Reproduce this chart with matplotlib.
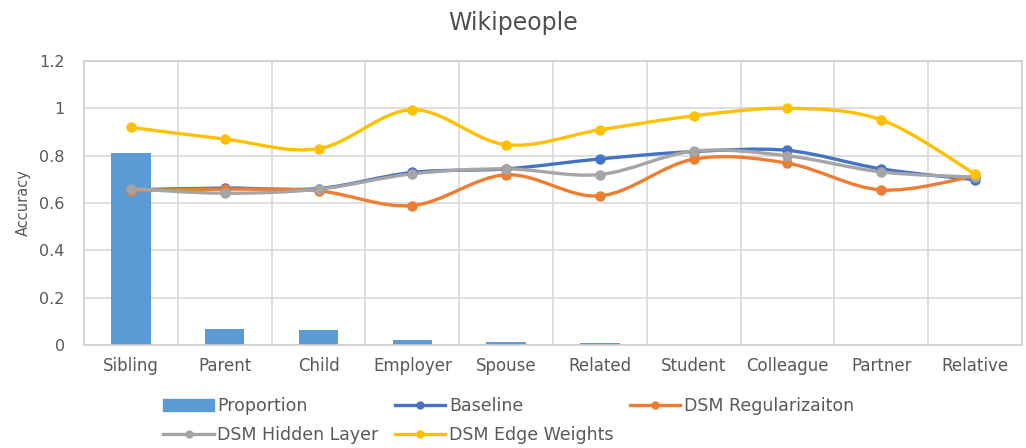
import numpy as np
import matplotlib.pyplot as plt
from matplotlib.path import Path
from matplotlib.patches import PathPatch, Patch
from matplotlib.lines import Line2D

plt.rcParams['font.family'] = ['DejaVu Sans']

categories = ['Sibling', 'Parent', 'Child', 'Employer', 'Spouse', 'Related',
              'Student', 'Colleague', 'Partner', 'Relative']
proportion = [0.81, 0.069, 0.062, 0.02, 0.012, 0.01, 0, 0, 0, 0]
baseline = [0.655, 0.663, 0.661, 0.729, 0.744, 0.786, 0.817, 0.822, 0.744, 0.698]
dsm_reg = [0.652, 0.658, 0.651, 0.589, 0.719, 0.630, 0.785, 0.768, 0.655, 0.714]
dsm_hidden = [0.660, 0.641, 0.658, 0.723, 0.744, 0.720, 0.819, 0.799, 0.731, 0.709]
dsm_edge = [0.919, 0.870, 0.829, 0.994, 0.846, 0.909, 0.968, 1.000, 0.951, 0.722]

c_bar = '#5B9BD5'
c_base = '#4472C4'
c_reg = '#ED7D31'
c_hid = '#A5A5A5'
c_edge = '#FFC000'
txt = '#595959'


def smooth_path(xs, ys):
    # excel-ish smoothed line: cubic bezier, tension 1/6
    pts = np.column_stack([xs, ys]).astype(float)
    n = len(pts)
    verts = [pts[0]]
    codes = [Path.MOVETO]
    for i in range(n - 1):
        p0 = pts[max(i - 1, 0)]
        p1 = pts[i]
        p2 = pts[i + 1]
        p3 = pts[min(i + 2, n - 1)]
        c1 = p1 + (p2 - p0) / 6
        c2 = p2 - (p3 - p1) / 6
        verts += [c1, c2, p2]
        codes += [Path.CURVE4] * 3
    return Path(verts, codes)


fig = plt.figure(figsize=(10.26, 4.48), dpi=100)
ax = fig.add_axes([0.082, 0.23, 0.914, 0.634])

x = np.arange(len(categories))
ax.bar(x, proportion, width=0.42, color=c_bar, zorder=2)

series = [(baseline, c_base), (dsm_reg, c_reg), (dsm_hidden, c_hid), (dsm_edge, c_edge)]
for vals, col in series:
    ax.add_patch(PathPatch(smooth_path(x, vals), fill=False, edgecolor=col,
                           lw=2.4, capstyle='round', joinstyle='round', zorder=3))
    ax.plot(x, vals, 'o', color=col, markersize=6.5, zorder=4)

ax.set_xlim(-0.5, len(categories) - 0.5)
ax.set_ylim(0, 1.2)
ax.set_yticks([0, 0.2, 0.4, 0.6, 0.8, 1, 1.2])
ax.set_yticklabels(['0', '0.2', '0.4', '0.6', '0.8', '1', '1.2'])
ax.set_xticks(x)
ax.set_xticklabels(categories)
ax.set_xticks(np.arange(len(categories) + 1) - 0.5, minor=True)
ax.tick_params(which='both', length=0, colors=txt, labelsize=11.5)
ax.tick_params(axis='x', pad=9, labelsize=12)
ax.tick_params(axis='y', pad=14)
ax.grid(axis='y', which='major', color='#D9D9D9', lw=1.2, zorder=0)
ax.grid(axis='x', which='minor', color='#D9D9D9', lw=1.2, zorder=0)
for s in ax.spines.values():
    s.set_color('#D0D0D0')
    s.set_linewidth(1.2)
ax.set_ylabel('Accuracy', fontsize=10.5, color=txt, labelpad=6)

fig.suptitle('Wikipeople', fontsize=17, color='#505050', y=0.975)

handles = [
    Patch(color=c_bar, label='Proportion'),
    Line2D([], [], color=c_hid, lw=2.4, marker='o', ms=5, label='DSM Hidden Layer'),
    Line2D([], [], color=c_base, lw=2.4, marker='o', ms=5, label='Baseline'),
    Line2D([], [], color=c_edge, lw=2.4, marker='o', ms=5, label='DSM Edge Weights'),
    Line2D([], [], color=c_reg, lw=2.4, marker='o', ms=5, label='DSM Regularizaiton'),
]
leg = fig.legend(handles=handles, ncol=3, loc='lower left', bbox_to_anchor=(0.144, -0.026),
                 frameon=False, fontsize=12.5, handlelength=2.9, handletextpad=0.2,
                 columnspacing=0.95, labelspacing=0.62)
for t in leg.get_texts():
    t.set_color(txt)

fig.savefig('out.png', dpi=100)
